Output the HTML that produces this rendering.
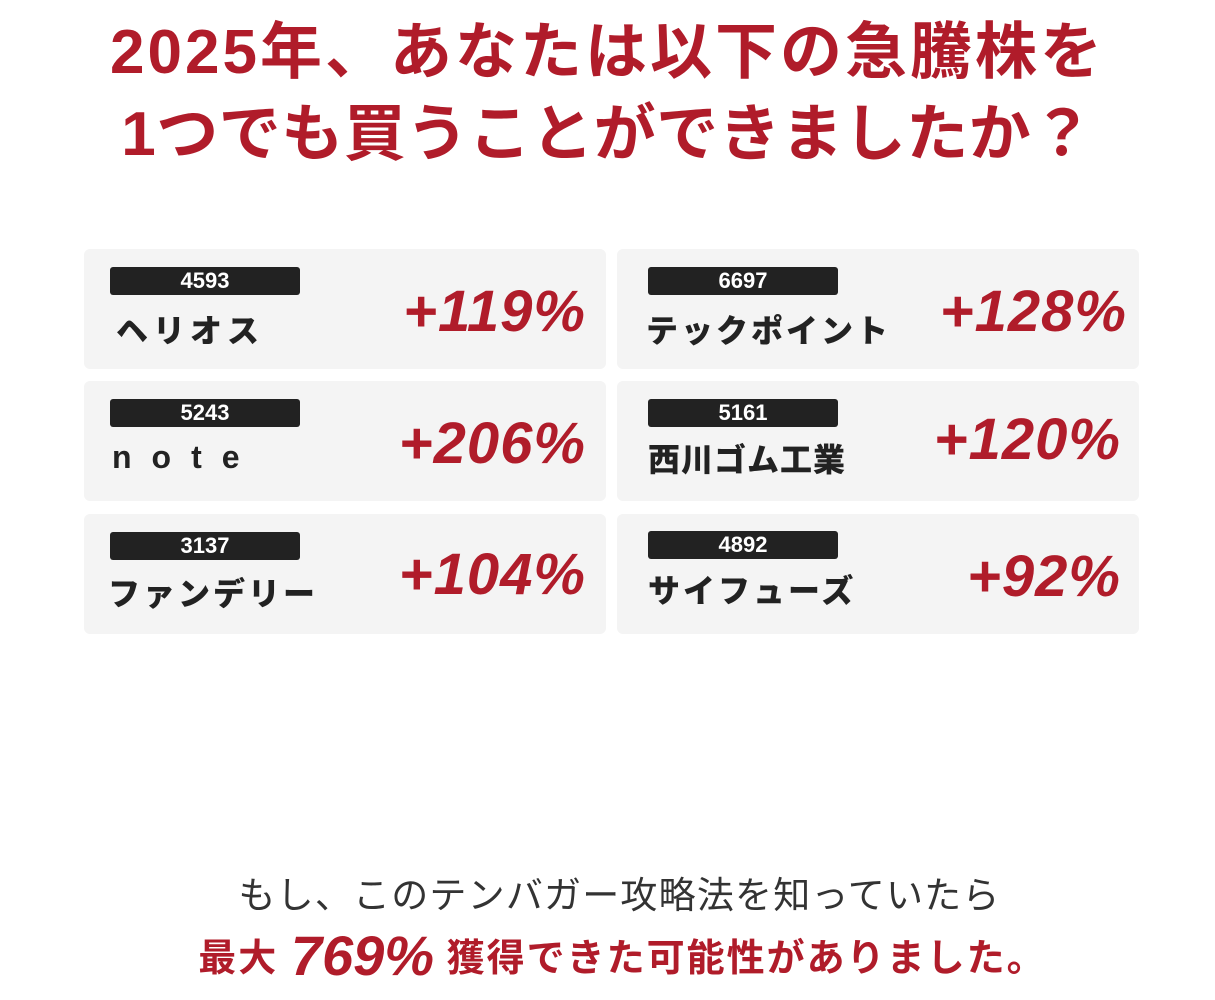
<!DOCTYPE html>
<html><head><meta charset="utf-8"><style>
body{margin:0;background:#fff;width:1215px;height:1000px;position:relative;overflow:hidden;font-family:"Liberation Sans","Noto Sans CJK JP",sans-serif}
.t{position:absolute;left:0;width:1215px;text-align:center;color:#b01c2a;font-weight:700;font-size:62px;letter-spacing:3px;line-height:1}
.card{position:absolute;width:522px;height:120px;background:#f4f4f4;border-radius:6px}
.b{position:absolute;top:18px;width:190px;height:28px;background:#222;border-radius:3px;color:#fff;font-weight:700;font-size:22px;line-height:28px;text-align:center}
.n{position:absolute;top:66px;font-weight:900;font-size:32px;letter-spacing:5px;color:#222;line-height:1;white-space:nowrap}
.p{position:absolute;top:34px;font-weight:700;font-style:italic;font-size:58px;color:#b01c2a;line-height:1;letter-spacing:1px}
</style></head><body>
<div class="t" style="top:22px">2025年、あなたは以下の急騰株を</div>
<div class="t" style="top:104px;letter-spacing:0.5px">1つでも買うことができましたか？</div>

<div class="card" style="left:84px;top:249px"><div class="b" style="left:26px">4593</div><div class="n" style="left:32px">ヘリオス</div><div class="p" style="right:20px">+119%</div></div>
<div class="card" style="left:617px;top:249px"><div class="b" style="left:31px">6697</div><div class="n" style="left:29px;letter-spacing:3px">テックポイント</div><div class="p" style="right:12px">+128%</div></div>
<div class="card" style="left:84px;top:381px"><div class="b" style="left:26px">5243</div><div class="n" style="left:28px;letter-spacing:20px;top:60px">note</div><div class="p" style="right:20px">+206%</div></div>
<div class="card" style="left:617px;top:381px"><div class="b" style="left:31px">5161</div><div class="n" style="left:31px;letter-spacing:1px;top:63px">西川ゴム工業</div><div class="p" style="right:18px;top:30px">+120%</div></div>
<div class="card" style="left:84px;top:514px"><div class="b" style="left:26px">3137</div><div class="n" style="left:24px;top:64px;letter-spacing:3px">ファンデリー</div><div class="p" style="right:20px;top:32px">+104%</div></div>
<div class="card" style="left:617px;top:514px"><div class="b" style="left:31px;top:17px">4892</div><div class="n" style="left:31px;letter-spacing:3px;top:61px">サイフューズ</div><div class="p" style="right:18px">+92%</div></div>

<div style="position:absolute;left:12px;top:877px;width:1215px;text-align:center;font-size:37px;color:#333;line-height:1;letter-spacing:1.2px">もし、このテンバガー攻略法を知っていたら</div>
<div style="position:absolute;left:15px;top:926px;width:1215px;text-align:center;color:#b01c2a;font-weight:700;font-size:38px;line-height:60px;white-space:nowrap;letter-spacing:2px"><span>最大</span> <span style="font-style:italic;font-size:56px;vertical-align:-4px;letter-spacing:0">769%</span> <span>獲得できた可能性がありました。</span></div>
</body></html>
